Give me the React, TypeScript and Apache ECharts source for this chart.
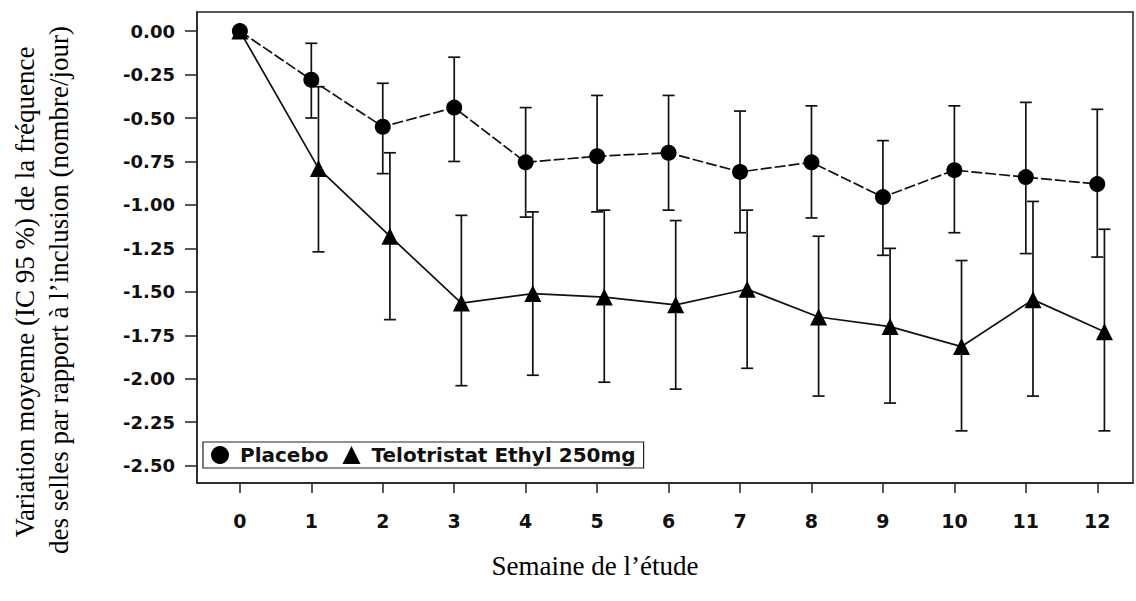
import React, { useEffect, useRef } from "react";
import * as echarts from "echarts";

const weeks = [0, 1, 2, 3, 4, 5, 6, 7, 8, 9, 10, 11, 12];
const placeboMean = [0.0, -0.28, -0.55, -0.44, -0.755, -0.72, -0.7, -0.81, -0.755, -0.955, -0.8, -0.84, -0.88];
const placeboLow = [0.0, -0.5, -0.82, -0.75, -1.07, -1.04, -1.03, -1.16, -1.075, -1.29, -1.16, -1.28, -1.3];
const placeboHigh = [0.0, -0.07, -0.3, -0.15, -0.44, -0.37, -0.37, -0.46, -0.43, -0.63, -0.43, -0.41, -0.45];
const teloMean = [0.0, -0.79, -1.18, -1.565, -1.51, -1.53, -1.575, -1.485, -1.645, -1.7, -1.815, -1.545, -1.73];
const teloLow = [0.0, -1.27, -1.66, -2.04, -1.98, -2.02, -2.06, -1.94, -2.1, -2.14, -2.3, -2.1, -2.3];
const teloHigh = [0.0, -0.32, -0.7, -1.06, -1.04, -1.03, -1.09, -1.03, -1.18, -1.25, -1.32, -0.98, -1.14];
const yTicks = [0, -0.25, -0.5, -0.75, -1.0, -1.25, -1.5, -1.75, -2.0, -2.25, -2.5];
const seriesNames = ["Placebo", "Telotristat Ethyl 250mg"];
const xTitle = "Semaine de l’étude";
const yTitle1 = "Variation moyenne (IC 95 %) de la fréquence";
const yTitle2 = "des selles par rapport à l’inclusion (nombre/jour)";

const TELO_DODGE = 0.1;
const INK = "#111";
const LABEL_FONT = "DejaVu Sans";
const SERIF = "Liberation Serif";

function errorBarSeries(xs: number[], lo: number[], hi: number[], dodge: number, lw: number) {
  return {
    type: "custom",
    silent: true,
    z: 1,
    data: xs.map((w, i) => [w + dodge, lo[i], hi[i]]).filter((d) => d[1] !== d[2]),
    encode: { x: 0, y: [1, 2] },
    renderItem: (params: any, api: any) => {
      const x = api.value(0);
      const top = api.coord([x, api.value(2)]);
      const bot = api.coord([x, api.value(1)]);
      const hw = 6;
      const style = { stroke: INK, lineWidth: lw };
      return {
        type: "group",
        children: [
          { type: "line", shape: { x1: top[0], y1: top[1], x2: bot[0], y2: bot[1] }, style },
          { type: "line", shape: { x1: top[0] - hw, y1: top[1], x2: top[0] + hw, y2: top[1] }, style },
          { type: "line", shape: { x1: bot[0] - hw, y1: bot[1], x2: bot[0] + hw, y2: bot[1] }, style },
        ],
      };
    },
  };
}

export default function App() {
  const ref = useRef<HTMLDivElement>(null);
  useEffect(() => {
    document.body.style.margin = "0";
    const chart = echarts.init(ref.current!, null, { renderer: "svg" });
    chart.setOption({
      animation: false,
      backgroundColor: "#fff",
      grid: {
        left: 197,
        top: 12,
        right: 3,
        bottom: 118,
        show: true,
        borderColor: "#222",
        borderWidth: 1.5,
        backgroundColor: "transparent",
      },
      legend: {
        left: 203,
        top: 442,
        orient: "horizontal",
        borderColor: "#222",
        borderWidth: 1.2,
        padding: [3, 8, 3, 8],
        itemGap: 14,
        itemWidth: 18,
        itemHeight: 18,
        textStyle: { fontFamily: LABEL_FONT, fontSize: 20, fontWeight: "bold", color: INK, padding: [0, 0, 0, 6] },
        data: [
          { name: seriesNames[0], icon: "circle" },
          { name: seriesNames[1], icon: "triangle" },
        ],
      },
      xAxis: {
        type: "value",
        min: -0.6,
        max: 12.5,
        splitLine: { show: false },
        axisLine: { show: true, onZero: false, lineStyle: { color: "#222", width: 1.5 } },
        axisTick: {
          show: true,
          length: 10,
          lineStyle: { color: "#222", width: 1.5 },
          customValues: weeks,
        },
        axisLabel: {
          customValues: weeks,
          margin: 28,
          fontFamily: LABEL_FONT,
          fontSize: 19,
          fontWeight: "bold",
          color: INK,
          formatter: (v: number) => String(v),
        },
      },
      yAxis: {
        type: "value",
        min: -2.6,
        max: 0.11,
        splitLine: { show: false },
        axisLine: { show: true, onZero: false, lineStyle: { color: "#222", width: 1.5 } },
        axisTick: {
          show: true,
          length: 12,
          lineStyle: { color: "#222", width: 1.5 },
          customValues: yTicks,
        },
        axisLabel: {
          customValues: yTicks,
          margin: 22,
          fontFamily: LABEL_FONT,
          fontSize: 18,
          fontWeight: "bold",
          color: INK,
          formatter: (v: number) => v.toFixed(2),
        },
      },
      graphic: [
        {
          type: "text",
          x: 25,
          y: 292,
          rotation: Math.PI / 2,
          style: {
            text: yTitle1,
            font: `27px "${SERIF}"`,
            fill: "#000",
            textAlign: "center",
            textVerticalAlign: "middle",
          },
        },
        {
          type: "text",
          x: 59,
          y: 290,
          rotation: Math.PI / 2,
          style: {
            text: yTitle2,
            font: `27px "${SERIF}"`,
            fill: "#000",
            textAlign: "center",
            textVerticalAlign: "middle",
          },
        },
        {
          type: "text",
          x: 595,
          y: 566,
          style: {
            text: xTitle,
            font: `27px "${SERIF}"`,
            fill: "#000",
            textAlign: "center",
            textVerticalAlign: "middle",
          },
        },
      ],
      series: [
        errorBarSeries(weeks, placeboLow, placeboHigh, 0, 1.7),
        errorBarSeries(weeks, teloLow, teloHigh, TELO_DODGE, 1.7),
        {
          name: seriesNames[0],
          type: "line",
          z: 3,
          data: weeks.map((w, i) => [w, placeboMean[i]]),
          symbol: "circle",
          symbolSize: 16,
          itemStyle: { color: "#000" },
          lineStyle: { color: "#111", width: 1.7, type: [11, 3] },
        },
        {
          name: seriesNames[1],
          type: "line",
          z: 3,
          data: weeks.map((w, i) => [w + (i === 0 ? 0 : TELO_DODGE), teloMean[i]]),
          symbol: "triangle",
          symbolSize: 17,
          itemStyle: { color: "#000" },
          lineStyle: { color: "#111", width: 1.7 },
        },
      ],
    });
    return () => chart.dispose();
  }, []);
  return <div ref={ref} style={{ width: 1136, height: 601 }} />;
}
